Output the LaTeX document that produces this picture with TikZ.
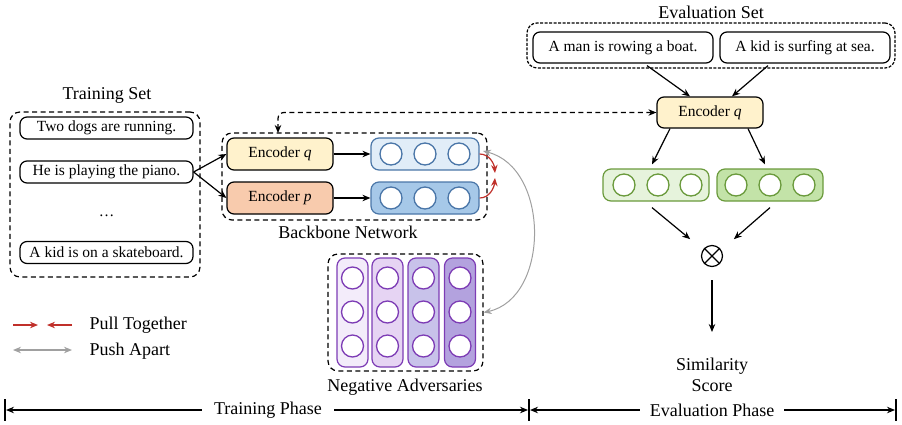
\documentclass[tikz,border=0pt]{standalone}
\usepackage{fontspec}
\setmainfont{Liberation Serif}
\usetikzlibrary{arrows.meta,calc}
\definecolor{encq}{HTML}{FFF2CC}
\definecolor{encp}{HTML}{F8CBAD}
\definecolor{bluel}{HTML}{E1EDF8}
\definecolor{blued}{HTML}{A6C8E8}
\definecolor{bluebd}{HTML}{4A76A8}
\definecolor{greenl}{HTML}{E6F3DC}
\definecolor{greend}{HTML}{C3E3A8}
\definecolor{greenbd}{HTML}{6A9A3C}
\definecolor{purA}{HTML}{F3ECFA}
\definecolor{purB}{HTML}{E6D4F3}
\definecolor{purC}{HTML}{C8C2EA}
\definecolor{purD}{HTML}{B3A2DE}
\definecolor{purbd}{HTML}{7D3CB5}
\definecolor{pullred}{HTML}{C0302A}
\definecolor{pushgray}{HTML}{A0A0A0}
\tikzset{
  txt/.style={font=\fontsize{15.5}{18}\selectfont},
  ttl/.style={font=\fontsize{18}{21}\selectfont},
  sent/.style={draw, rounded corners=7pt, line width=1.2pt, minimum height=22pt, inner sep=0pt, txt},
  dbox/.style={draw, dash pattern=on 5pt off 3.5pt, rounded corners=10pt, line width=1.2pt, inner sep=0pt},
  enc/.style={draw, rounded corners=7pt, line width=1.2pt, minimum width=106pt, minimum height=32pt, inner sep=0pt, txt},
  vec/.style={draw, rounded corners=8pt, line width=1.2pt, minimum width=108pt, minimum height=32pt, inner sep=0pt},
  col/.style={draw=purbd, rounded corners=8pt, line width=1.2pt, minimum width=31pt, minimum height=109pt, inner sep=0pt},
  circ/.style={draw, circle, fill=white, line width=1.3pt, minimum size=22pt, inner sep=0pt},
  arr/.style={-{Stealth[length=8pt,width=6.5pt]}, line width=1.2pt},
  darr/.style={{Stealth[length=8pt,width=6.5pt]}-{Stealth[length=8pt,width=6.5pt]}, line width=1.2pt},
}
\begin{document}
\begin{tikzpicture}[x=1pt,y=-1pt]
\useasboundingbox (0,0) rectangle (902,424);
% ---------- Training set ----------
\node[ttl] (trainT) at (107,95) {Training Set};
\node[dbox, minimum width=190pt, minimum height=165pt] (train) at (105,194.5) {};
\node[sent, minimum width=173pt] (s1) at (106.5,128) {Two dogs are running.};
\node[sent, minimum width=173pt] (s2) at (106.5,172) {He is playing the piano.};
\node[txt] (sdots) at (106.5,216) {\dots};
\node[sent, minimum width=173pt] (s4) at (106.5,252.5) {A kid is on a skateboard.};
% ---------- Backbone ----------
\node[dbox, minimum width=265pt, minimum height=87pt] (bb) at (354.5,176.5) {};
\node[ttl] (bbT) at (348,232) {Backbone Network};
\node[enc, fill=encq] (eq) at (280,154) {Encoder \textit{q}};
\node[enc, fill=encp] (ep) at (280,198) {Encoder \textit{p}};
\node[vec, draw=bluebd, fill=bluel] (vq) at (425,154) {};
\node[vec, draw=bluebd, fill=blued] (vp) at (425,198) {};
\foreach \x [count=\i] in {391,425,459}{
  \node[circ, draw=bluebd] (vq\i) at (\x,154) {};
  \node[circ, draw=bluebd] (vp\i) at (\x,198) {};
}
\draw[arr] (s2.east) -- (eq.west);
\draw[arr] (s2.east) -- (ep.west);
\draw[arr] (eq.east) -- (vq.west);
\draw[arr] (ep.east) -- (vp.west);
% ---------- Negative adversaries ----------
\node[dbox, minimum width=155pt, minimum height=117pt] (neg) at (405.5,312.5) {};
\node[ttl] (negT) at (405,387) {Negative Adversaries};
\foreach \x/\c [count=\i] in {352.5/purA,387.5/purB,423.5/purC,460/purD}{
  \node[col, fill=\c] (c\i) at (\x,312.5) {};
  \foreach \y [count=\j] in {278,312,346}{
    \node[circ, draw=purbd] (c\i\j) at (\x,\y) {};
  }
}
% pull / push
\coordinate (pullA) at (495,173);
\coordinate (pullB) at (495,178);
\draw[arr, pullred] (vq.east) to[out=0,in=95] (pullA);
\draw[arr, pullred] (vp.east) to[out=0,in=-95] (pullB);
\coordinate (pushA) at (483,151);
\draw[darr, pushgray, line width=1pt] (pushA) .. controls (550,168) and (550,298) .. (neg.east);
% ---------- Evaluation ----------
\node[ttl] (evalT) at (711,12) {Evaluation Set};
\node[dbox, dash pattern=on 3pt off 1.5pt, minimum width=368pt, minimum height=45pt] (ev) at (711,45.5) {};
\node[sent, minimum width=180pt, minimum height=31pt] (e1) at (623,47.5) {A man is rowing a boat.};
\node[sent, minimum width=170pt, minimum height=31pt] (e2) at (805,47.5) {A kid is surfing at sea.};
\node[enc, fill=encq, minimum height=31pt] (eq2) at (710,112.5) {Encoder \textit{q}};
\draw[arr] ($(e1.south)+(24,2)$) -- ($(eq2.north)+(-20,0)$);
\draw[arr] ($(e2.south)+(-37,2)$) -- ($(eq2.north)+(22,0)$);
\coordinate (bbtop) at (278,133);
\draw[darr, dash pattern=on 5pt off 3.5pt, rounded corners=6pt] (eq2.west) -| (bbtop);
\node[vec, draw=greenbd, fill=greenl, minimum width=106pt] (g1) at (656,185) {};
\node[vec, draw=greenbd, fill=greend, minimum width=106pt] (g2) at (770,185) {};
\foreach \x [count=\i] in {624,658,691}{\node[circ, draw=greenbd] (g1\i) at (\x,185) {};}
\foreach \x [count=\i] in {736,770,804}{\node[circ, draw=greenbd] (g2\i) at (\x,185) {};}
\draw[arr] ($(eq2.south)+(-40,0)$) -- ($(g1.north)+(-4,-4)$);
\draw[arr] ($(eq2.south)+(38,0)$) -- ($(g2.north)+(-5,-4)$);
\node[circle, draw, line width=1.2pt, minimum size=21pt, inner sep=0pt] (ot) at (712,256) {};
\draw[line width=1.2pt] (ot.north west) -- (ot.south east) (ot.north east) -- (ot.south west);
\draw[arr] ($(g1.south)+(-4,6)$) -- ($(ot.north west)+(-14,-9)$);
\draw[arr] ($(g2.south)+(0,6)$) -- ($(ot.north east)+(14,-9)$);
\coordinate (otb) at (712,280);
\node[ttl, align=center] (sim) at (712,375) {Similarity\\Score};
\draw[arr] (otb) -- (712,332);
% ---------- Legend ----------
\coordinate (l1a) at (13,325); \coordinate (l1b) at (38,325);
\coordinate (l1c) at (72,325); \coordinate (l1d) at (47,325);
\draw[arr, pullred, line width=1.1pt] (l1a) -- (l1b);
\draw[arr, pullred, line width=1.1pt] (l1c) -- (l1d);
\node[ttl, anchor=west] (pullT) at (86,325) {Pull Together};
\coordinate (l2a) at (13,350); \coordinate (l2b) at (72,350);
\draw[darr, pushgray, line width=1.1pt] (l2a) -- (l2b);
\node[ttl, anchor=west] (pushT) at (86,351) {Push Apart};
% ---------- Phases ----------
\coordinate (barL) at (5,410); \coordinate (barM) at (529,410); \coordinate (barR) at (896,410);
\foreach \b in {barL,barM,barR}{\draw[line width=1.2pt] ($(\b)+(0,-11)$) -- ($(\b)+(0,11)$);}
\node[ttl, inner xsep=12pt] (tp) at (268,410) {Training Phase};
\node[ttl, inner xsep=10pt] (epz) at (712,410) {Evaluation Phase};
\draw[arr] (tp.west) -- ($(barL)+(1,0)$);
\draw[arr] (tp.east) -- ($(barM)+(-1,0)$);
\draw[arr] (epz.west) -- ($(barM)+(1,0)$);
\draw[arr] (epz.east) -- ($(barR)+(-1,0)$);
\end{tikzpicture}
\end{document}
